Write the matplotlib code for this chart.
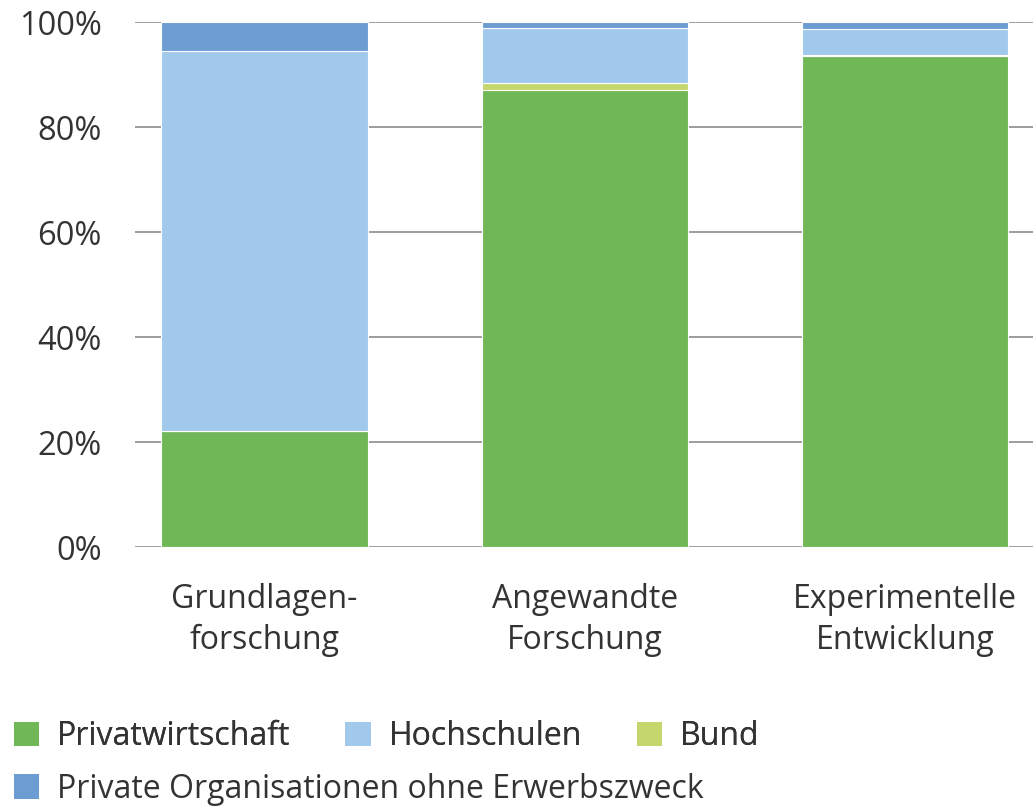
import numpy as np
import matplotlib.pyplot as plt
from matplotlib.patches import Patch

plt.rcParams['font.family'] = ['Open Sans', 'DejaVu Sans']

# Data (shares in %)
categories = ['Grundlagen-\nforschung', 'Angewandte\nForschung', 'Experimentelle\nEntwicklung']
privatwirtschaft = [22.1, 87.0, 93.5]
hochschulen = [72.4, 10.4, 4.8]
bund = [0.0, 1.4, 0.3]
private_org = [5.5, 1.2, 1.4]

series_names = ['Privatwirtschaft', 'Hochschulen', 'Bund',
                'Private Organisationen ohne Erwerbszweck']
colors = ['#70b757', '#a0c9ec', '#c4d66c', '#6b9dd3']

fig = plt.figure(figsize=(10.33, 8.07), dpi=100)
ax = fig.add_axes([0.1307, 0.322, 0.8693, 0.6507])

# stacking order: Privatwirtschaft, Bund, Hochschulen, Private Org.
x = np.arange(len(categories))
bottom = np.zeros(len(categories))
stack = [(privatwirtschaft, colors[0]), (bund, colors[2]),
         (hochschulen, colors[1]), (private_org, colors[3])]
for vals, col in stack:
    ax.bar(x, vals, bottom=bottom, width=0.645, color=col,
           edgecolor='white', linewidth=0.8, zorder=3)
    bottom += np.array(vals)

ax.set_xlim(-0.405, 2.4)
ax.set_ylim(0, 100)
ax.set_yticks(range(0, 101, 20))
ax.set_yticklabels([f'{v}%' for v in range(0, 101, 20)])
ax.yaxis.grid(True, color='#8c8c8c', linewidth=1.2, zorder=0)
ax.set_axisbelow(True)
for s in ax.spines.values():
    s.set_visible(False)

ax.tick_params(axis='y', length=0, pad=24, labelsize=23.5, labelcolor='#333333')
ax.tick_params(axis='x', length=0, pad=26, labelsize=23, labelcolor='#333333')
ax.set_xticks(x)
ax.set_xticklabels(categories, linespacing=1.3)

# Legend
handles = [Patch(facecolor=c, edgecolor='none') for c in colors]
common = dict(frameon=False, fontsize=23, handlelength=0.8, handleheight=0.8,
              handletextpad=0.55, labelcolor='#333333', borderaxespad=0)
leg1 = fig.legend(handles[:3], series_names[:3], ncol=3, loc='center left',
                  bbox_to_anchor=(0.001, 0.087), columnspacing=1.72, **common)
leg2 = fig.legend(handles[3:], series_names[3:], loc='center left',
                  bbox_to_anchor=(0.001, 0.022), **common)
fig.add_artist(leg1)

fig.savefig('out.png', dpi=100)
